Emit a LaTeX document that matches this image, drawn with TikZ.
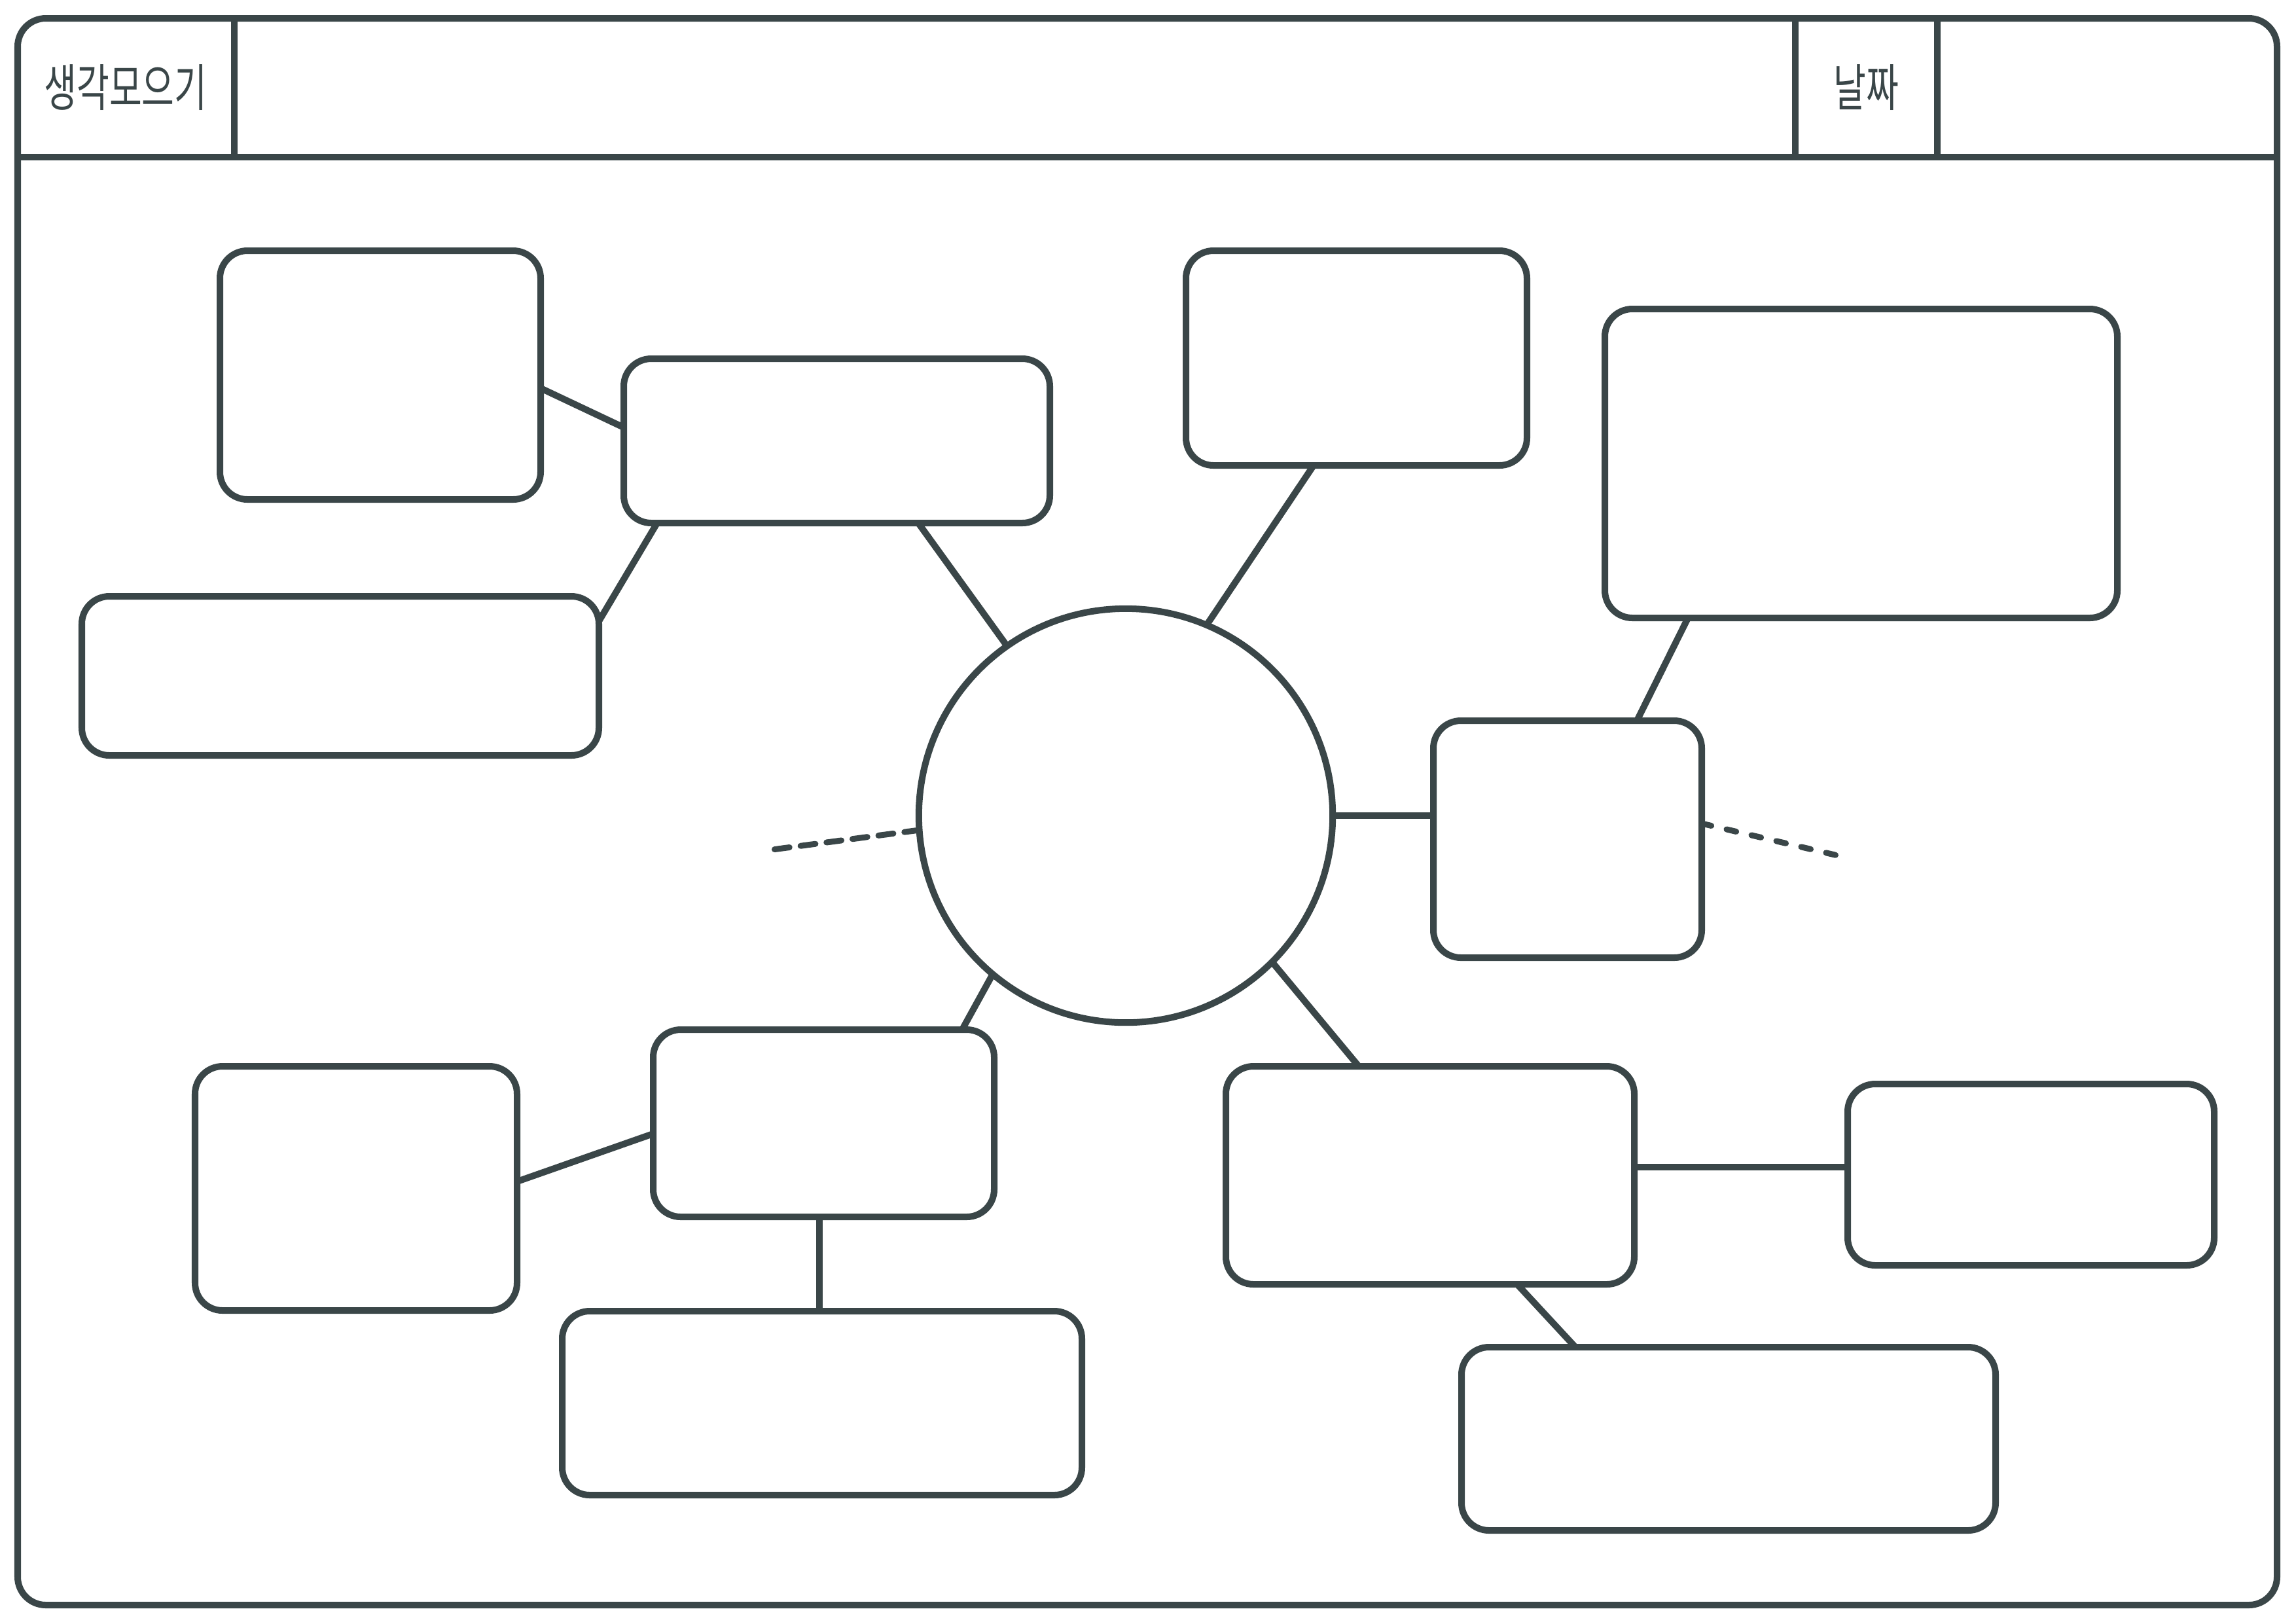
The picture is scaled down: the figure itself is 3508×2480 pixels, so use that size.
\documentclass[tikz,border=0pt]{standalone}
\usepackage{fontspec}
\newfontfamily\hangul[FakeStretch=0.7]{Noto Sans CJK KR}
\usepackage{tikz}
\usetikzlibrary{calc}
\definecolor{ink}{RGB}{58,70,72}
\tikzset{
  ideabox/.style={draw=ink, fill=white, line width=0.1cm, rounded corners=0.42cm, inner sep=0pt, outer sep=0pt},
  hubcircle/.style={circle, draw=ink, fill=white, line width=0.1cm, inner sep=0pt, outer sep=0pt, minimum size=6.32cm},
  link/.style={draw=ink, line width=0.1cm},
  dashlink/.style={draw=ink, line width=0.09cm, line cap=round},
  headtext/.style={text=ink, font=\hangul\fontsize{22pt}{26pt}\selectfont, inner sep=0pt}
}
\newcommand{\ideabox}[5]{\node[ideabox, minimum width={(#4-#2)*0.01cm}, minimum height={(#5-#3)*0.01cm}] (#1) at ({(#2+#4)/2},{(#3+#5)/2}) {};}

\begin{document}
\begin{tikzpicture}[x=0.01cm, y=-0.01cm]
    \useasboundingbox (0,0) rectangle (3508,2480);
    % frame and header
    \draw[ink, line width=0.1cm, rounded corners=0.43cm] (27,28) rectangle (3479,2452);
    \draw[ink, line width=0.1cm] (27,240) -- (3479,240);
    \draw[ink, line width=0.1cm] (358,28) -- (358,240);
    \draw[ink, line width=0.1cm] (2743,28) -- (2743,240);
    \draw[ink, line width=0.1cm] (2960,28) -- (2960,240);
    \node[headtext] (title) at (192,134) {생각모으기};
    \node[headtext] (datelabel) at (2851,134) {날짜};
    % centre
    \node[hubcircle] (hub) at (1720,1246) {};
    % upper left
    \ideabox{boxA}{336}{383}{826}{763}
    \ideabox{boxB}{953}{548}{1604}{799}
    \ideabox{boxC}{125}{911}{915}{1154}
    % upper right
    \ideabox{boxD}{1812}{383}{2333}{711}
    \ideabox{boxE}{2452}{472}{3235}{944}
    \ideabox{boxF}{2190}{1101}{2600}{1463}
    % lower left
    \ideabox{boxG}{998}{1573}{1519}{1859}
    \ideabox{boxH}{298}{1629}{790}{2002}
    \ideabox{boxI}{859}{2003}{1653}{2284}
    % lower right
    \ideabox{boxJ}{1873}{1629}{2497}{1962}
    \ideabox{boxK}{2823}{1656}{3383}{1933}
    \ideabox{boxL}{2233}{2058}{3049}{2338}
    % links
    \draw[link] (boxA.east |- 0,593) -- (boxB.west |- 0,653);
    \draw[link] (boxB.south -| 1004,0) -- (boxC.east |- 0,949);
    \draw[link] (boxB.south -| 1403,0) -- (hub.125);
    \draw[link] (boxD.south -| 2007,0) -- (hub.67);
    \draw[link] (boxE.south -| 2579,0) -- (boxF.north -| 2501,0);
    \draw[link] (hub.0) -- (hub.0 -| boxF.west);
    \draw[link] (hub.230) -- (boxG.north -| 1470,0);
    \draw[link] (boxG.west |- 0,1732) -- (boxH.east |- 0,1805);
    \draw[link] (boxG.south -| 1252,0) -- (boxI.north -| 1252,0);
    \draw[link] (hub.315) -- (boxJ.north -| 2076,0);
    \draw[link] (boxJ.east |- 0,1783) -- (boxK.west |- 0,1783);
    \draw[link] (boxJ.south -| 2318,0) -- (boxL.north -| 2407,0);
    % open ends
    \coordinate (leftend) at (1180,1298);
    \coordinate (rightend) at (2812,1308);
    \draw[dashlink, dash pattern=on 0.23cm off 0.17cm] (hub.184) -- (leftend);
    \draw[dashlink, dash pattern=on 0.15cm off 0.24cm] (boxF.east |- 0,1258) -- (rightend);
\end{tikzpicture}
\end{document}
